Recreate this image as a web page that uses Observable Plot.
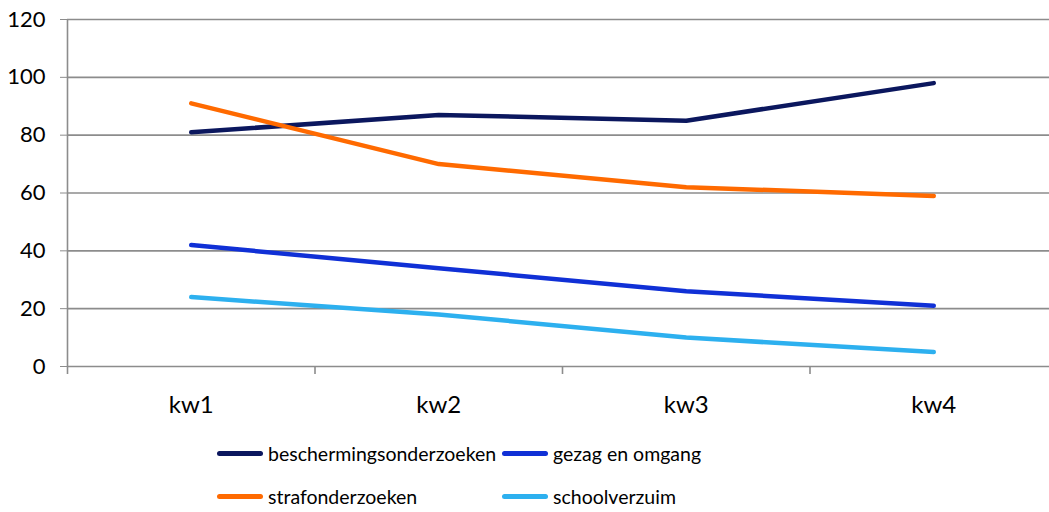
<!DOCTYPE html>
<html><head><meta charset="utf-8">
<script src="https://cdn.jsdelivr.net/npm/d3@7"></script>
<script src="https://cdn.jsdelivr.net/npm/@observablehq/plot@0.6"></script>
<style>
body{margin:0;background:#fff;font-family:Lato,"Open Sans",sans-serif;}
#chart{position:relative;width:1049px;height:512px;overflow:hidden;}
#legend{position:absolute;left:217px;top:439px;display:grid;grid-template-columns:285px 300px;row-gap:15px;font-size:19.5px;color:#000;}
.item{display:flex;align-items:center;height:28px;}
.sw{width:46px;height:5px;border-radius:3px;margin-right:5px;}
</style></head>
<body><div id="chart"></div>
<script>
const categories = ["kw1","kw2","kw3","kw4"];
const seriesNames = ["beschermingsonderzoeken","gezag en omgang","strafonderzoeken","schoolverzuim"];
const colors = ["#0b175e","#1030d6","#ff6a00","#2db0ef"];
const bescherming = [81, 87, 85, 98];
const gezag = [42, 34, 26, 21];
const straf = [91, 70, 62, 59];
const school = [24, 18, 10, 5];
const yTicks = [0,20,40,60,80,100,120];

const valuesBySeries = [bescherming, gezag, straf, school];
const data = [];
seriesNames.forEach((s, si) => valuesBySeries[si].forEach((v, i) => data.push({series: s, idx: i + 1, value: v})));
const boundaries = d3.range(categories.length + 1).map(i => i + 0.5);

const plot = Plot.plot({
  width: 1049, height: 430,
  marginLeft: 67, marginRight: -8, marginTop: 19, marginBottom: 64,
  style: {fontFamily: "Lato, 'Open Sans', sans-serif", fontSize: "20px", color: "#000", background: "#fff"},
  x: {type: "linear", domain: [0.5, categories.length + 0.5]},
  y: {domain: [0, 120]},
  color: {domain: seriesNames, range: colors},
  marks: [
    Plot.gridY(yTicks, {stroke: "#8c8c8c", strokeOpacity: 1, strokeWidth: 1.6}),
    Plot.ruleX([0.5], {stroke: "#8c8c8c", strokeWidth: 1.6}),
    Plot.axisY({ticks: yTicks, tickSize: 7, tickPadding: 15, stroke: "#8c8c8c", label: null, fontSize: 22}),
    Plot.axisX({ticks: boundaries, tickSize: 8, tickFormat: () => "", stroke: "#8c8c8c", strokeWidth: 1.6, label: null}),
    Plot.axisX({ticks: d3.range(1, categories.length + 1), tickSize: 0, tickPadding: 29, tickFormat: i => categories[i - 1], label: null, fontSize: 24}),
    Plot.line(data, {x: "idx", y: "value", z: "series", stroke: "series", strokeWidth: 4.5, strokeLinecap: "round", strokeLinejoin: "round"})
  ]
});
const chart = document.getElementById("chart");
chart.appendChild(plot);
const legend = document.createElement("div");
legend.id = "legend";
seriesNames.forEach((s, i) => {
  const it = document.createElement("div"); it.className = "item";
  const sw = document.createElement("span"); sw.className = "sw"; sw.style.background = colors[i];
  const t = document.createElement("span"); t.textContent = s;
  it.appendChild(sw); it.appendChild(t); legend.appendChild(it);
});
chart.appendChild(legend);
</script></body></html>
